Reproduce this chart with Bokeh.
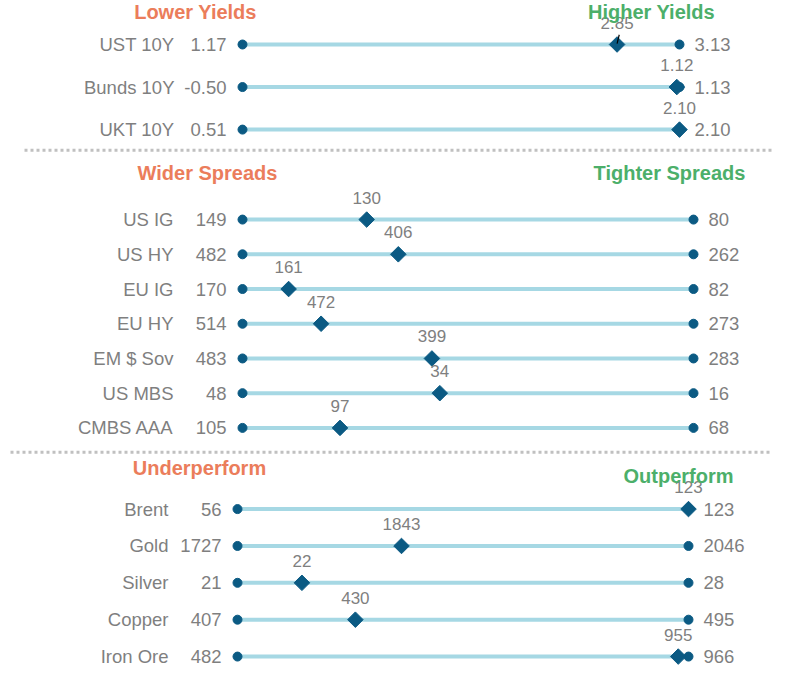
import math
from bokeh.plotting import figure
from bokeh.models import Range1d, ColumnDataSource
from bokeh.core.properties import value
from bokeh.embed import file_html
from bokeh.resources import INLINE

# ---------------- data ----------------
yield_names = ["UST 10Y", "Bunds 10Y", "UKT 10Y"]
yield_start = [1.17, -0.50, 0.51]
yield_end = [3.13, 1.13, 2.10]
yield_now = [2.85, 1.12, 2.10]
yield_labels_start = ["1.17", "-0.50", "0.51"]
yield_labels_end = ["3.13", "1.13", "2.10"]
yield_labels_now = ["2.85", "1.12", "2.10"]

spread_names = ["US IG", "US HY", "EU IG", "EU HY", "EM $ Sov", "US MBS", "CMBS AAA"]
spread_start = [149, 482, 170, 514, 483, 48, 105]
spread_end = [80, 262, 82, 273, 283, 16, 68]
spread_now = [130, 406, 161, 472, 399, 34, 97]

cmdty_names = ["Brent", "Gold", "Silver", "Copper", "Iron Ore"]
cmdty_start = [56, 1727, 21, 407, 482]
cmdty_end = [123, 2046, 28, 495, 966]
cmdty_now = [123, 1843, 22, 430, 955]

headers_left = ["Lower Yields", "Wider Spreads", "Underperform"]
headers_right = ["Higher Yields", "Tighter Spreads", "Outperform"]

# ---------------- style ----------------
FONT = value("Liberation Sans")
GREY = "#7f7f7f"
NAVY = "#0b5a83"
LIGHT = "#a6d8e4"
ORANGE = "#eb7d5b"
GREEN = "#4caf6a"
SEP = "#c0c0c0"

W, H = 772, 668
p = figure(width=W, height=H, output_backend="svg", toolbar_location=None,
           x_range=Range1d(0, 772), y_range=Range1d(685, 2),
           min_border=0, min_border_left=0, min_border_right=0,
           min_border_top=0, min_border_bottom=0)
p.axis.visible = False
p.grid.visible = False
p.outline_line_color = None
p.background_fill_color = "white"
p.border_fill_color = "white"

panels = [
    dict(key="p1", names=yield_names, start=yield_start, end=yield_end, now=yield_now,
         ls=yield_labels_start, le=yield_labels_end, ln=yield_labels_now,
         L=242, R=679, y0=47, dy=43.5, hyl=14, hyr=14, hxl=195, hxr=651, name_off=-68),
    dict(key="p2", names=spread_names, start=spread_start, end=spread_end, now=spread_now,
         ls=[str(v) for v in spread_start], le=[str(v) for v in spread_end],
         ln=[str(v) for v in spread_now],
         L=242, R=693, y0=226, dy=35.5, hyl=178, hyr=178, hxl=207, hxr=669, name_off=-69),
    dict(key="p3", names=cmdty_names, start=cmdty_start, end=cmdty_end, now=cmdty_now,
         ls=[str(v) for v in cmdty_start], le=[str(v) for v in cmdty_end],
         ln=[str(v) for v in cmdty_now],
         L=237, R=688, y0=522, dy=37.7, hyl=480, hyr=488, hxl=199, hxr=678, name_off=-69),
]
sep_y = [155, 464]

for i, pn in enumerate(panels):
    L, R = pn["L"], pn["R"]
    rname = pn["key"]
    p.extra_x_ranges[rname] = Range1d((0 - L) / (R - L), (772 - L) / (R - L))
    n = len(pn["names"])
    ys = [pn["y0"] + k * pn["dy"] for k in range(n)]
    frac = [(c - s) / (e - s) for s, e, c in zip(pn["start"], pn["end"], pn["now"])]
    src = ColumnDataSource(dict(y=ys, x0=[0.0] * n, x1=[1.0] * n, xn=frac,
                                names=pn["names"], ls=pn["ls"], le=pn["le"], ln=pn["ln"]))
    p.segment(x0="x0", y0="y", x1="x1", y1="y", source=src, x_range_name=rname,
              line_color=LIGHT, line_width=4)
    p.scatter(x="x0", y="y", source=src, x_range_name=rname, size=9,
              fill_color=NAVY, line_color=NAVY)
    p.scatter(x="x1", y="y", source=src, x_range_name=rname, size=9,
              fill_color=NAVY, line_color=NAVY)
    p.scatter(x="xn", y="y", source=src, x_range_name=rname, marker="square",
              angle=math.pi / 4, size=11, fill_color=NAVY, line_color=NAVY)
    p.text(x="x0", y="y", text="names", source=src, x_range_name=rname, x_offset=pn["name_off"],
           text_align="right", text_baseline="middle", text_font=FONT,
           text_font_size="18.5px", text_color=GREY)
    p.text(x="x0", y="y", text="ls", source=src, x_range_name=rname, x_offset=-16,
           text_align="right", text_baseline="middle", text_font=FONT,
           text_font_size="18.5px", text_color=GREY)
    p.text(x="x1", y="y", text="le", source=src, x_range_name=rname, x_offset=15,
           text_align="left", text_baseline="middle", text_font=FONT,
           text_font_size="18.5px", text_color=GREY)
    p.text(x="xn", y="y", text="ln", source=src, x_range_name=rname, y_offset=-22,
           text_align="center", text_baseline="middle", text_font=FONT,
           text_font_size="17px", text_color=GREY)
    p.text(x=[pn["hxl"]], y=[pn["hyl"]], text=[headers_left[i]], text_align="center",
           text_baseline="middle", text_font=FONT, text_font_size="20px",
           text_font_style="bold", text_color=ORANGE)
    p.text(x=[pn["hxr"]], y=[pn["hyr"]], text=[headers_right[i]], text_align="center",
           text_baseline="middle", text_font=FONT, text_font_size="20px",
           text_font_style="bold", text_color=GREEN)

# small leader tick for the first yield label
f0 = (yield_now[0] - yield_start[0]) / (yield_end[0] - yield_start[0])
p.segment(x0=[f0], y0=[46], x1=[f0 + 0.005], y1=[37], x_range_name="p1",
          line_color="black", line_width=1.2)

# dotted separators
p.segment(x0=[24, 10], y0=sep_y, x1=[772, 772], y1=sep_y, line_color=SEP,
          line_width=3, line_dash="3 3")

open("out.html", "w").write(file_html(p, INLINE))
